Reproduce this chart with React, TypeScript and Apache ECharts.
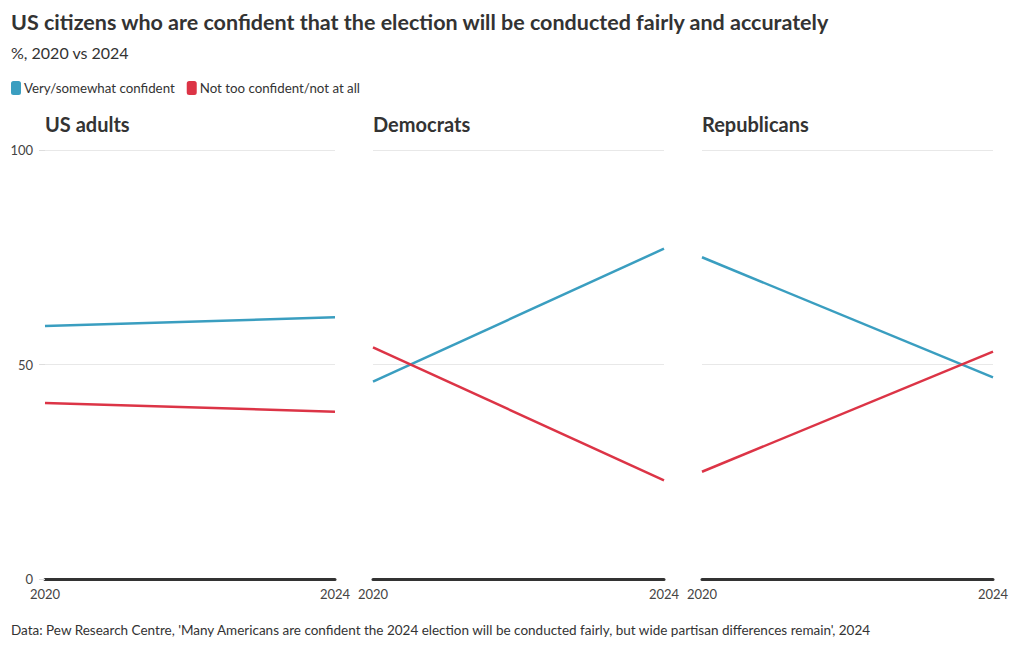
import React, { useEffect, useRef } from "react";
import * as echarts from "echarts";

const years = ["2020", "2024"];
const panels = ["US adults", "Democrats", "Republicans"];
const confident = [
  [59, 61],
  [46, 77],
  [75, 47],
];
const notConfident = [
  [41, 39],
  [54, 23],
  [25, 53],
];
const seriesNames = ["Very/somewhat confident", "Not too confident/not at all"];
const colors = ["#3a9ec0", "#dc3446"];

const FONT = "Lato";
const TXT = "#333333";

export default function App() {
  const ref = useRef<HTMLDivElement>(null);
  useEffect(() => {
    if (!ref.current) return;
    const chart = echarts.init(ref.current, null, { renderer: "svg" });
    const lefts = [45, 373, 702];
    const widths = [290, 291, 291];
    const grids = lefts.map((l, i) => ({
      left: l,
      top: 150,
      width: widths[i],
      height: 429,
      containLabel: false,
    }));
    const xAxes = lefts.map((_, i) => ({
      type: "category",
      gridIndex: i,
      data: years,
      boundaryGap: false,
      axisLine: { show: true, onZero: false, lineStyle: { color: "#333", width: 3 } },
      axisTick: { show: false },
      axisLabel: { color: "#444", fontFamily: FONT, fontSize: 13, margin: 8 },
      splitLine: { show: false },
    }));
    const yAxes = lefts.map((_, i) => ({
      type: "value",
      gridIndex: i,
      min: 0,
      max: 100,
      interval: 50,
      axisLine: { show: false },
      axisTick: { show: i === 0, length: 6, lineStyle: { color: "#dddddd" } },
      axisLabel: { show: i === 0, color: "#444", fontFamily: FONT, fontSize: 13, margin: 12 },
      splitLine: { show: true, lineStyle: { color: "#e8e8e8", width: 1 } },
    }));
    const series: any[] = [];
    panels.forEach((_, i) => {
      series.push({
        name: seriesNames[0],
        type: "line",
        xAxisIndex: i,
        yAxisIndex: i,
        data: confident[i],
        symbol: "none",
        lineStyle: { color: colors[0], width: 2.5 },
        itemStyle: { color: colors[0] },
      });
      series.push({
        name: seriesNames[1],
        type: "line",
        xAxisIndex: i,
        yAxisIndex: i,
        data: notConfident[i],
        symbol: "none",
        lineStyle: { color: colors[1], width: 2.5 },
        itemStyle: { color: colors[1] },
      });
    });
    const titles: any[] = [
      {
        text: "US citizens who are confident that the election will be conducted fairly and accurately",
        left: 11,
        top: 11,
        padding: 0,
        textStyle: { fontFamily: FONT, fontSize: 21.5, fontWeight: "bold", color: TXT },
      },
      {
        text: "%, 2020 vs 2024",
        left: 11,
        top: 44,
        padding: 0,
        textStyle: { fontFamily: FONT, fontSize: 16, fontWeight: "normal", color: TXT },
      },
      {
        text: "Data: Pew Research Centre, 'Many Americans are confident the 2024 election will be conducted fairly, but wide partisan differences remain', 2024",
        left: 11,
        top: 623,
        padding: 0,
        textStyle: { fontFamily: FONT, fontSize: 13.5, fontWeight: "normal", color: TXT },
      },
    ];
    panels.forEach((p, i) => {
      titles.push({
        text: p,
        left: lefts[i],
        top: 114,
        padding: 0,
        textStyle: { fontFamily: FONT, fontSize: 20, fontWeight: "bold", color: TXT },
      });
    });
    chart.setOption({
      animation: false,
      backgroundColor: "#ffffff",
      title: titles,
      legend: {
        left: 11,
        top: 81,
        padding: 0,
        itemWidth: 10,
        itemHeight: 14,
        itemGap: 12,
        icon: "roundRect",
        data: seriesNames,
        textStyle: { fontFamily: FONT, fontSize: 13.3, color: TXT, padding: [0, 0, 0, -2] },
      },
      grid: grids,
      xAxis: xAxes,
      yAxis: yAxes,
      series,
    });
    return () => chart.dispose();
  }, []);
  return <div ref={ref} style={{ width: 1020, height: 650, margin: -8 }} />;
}
